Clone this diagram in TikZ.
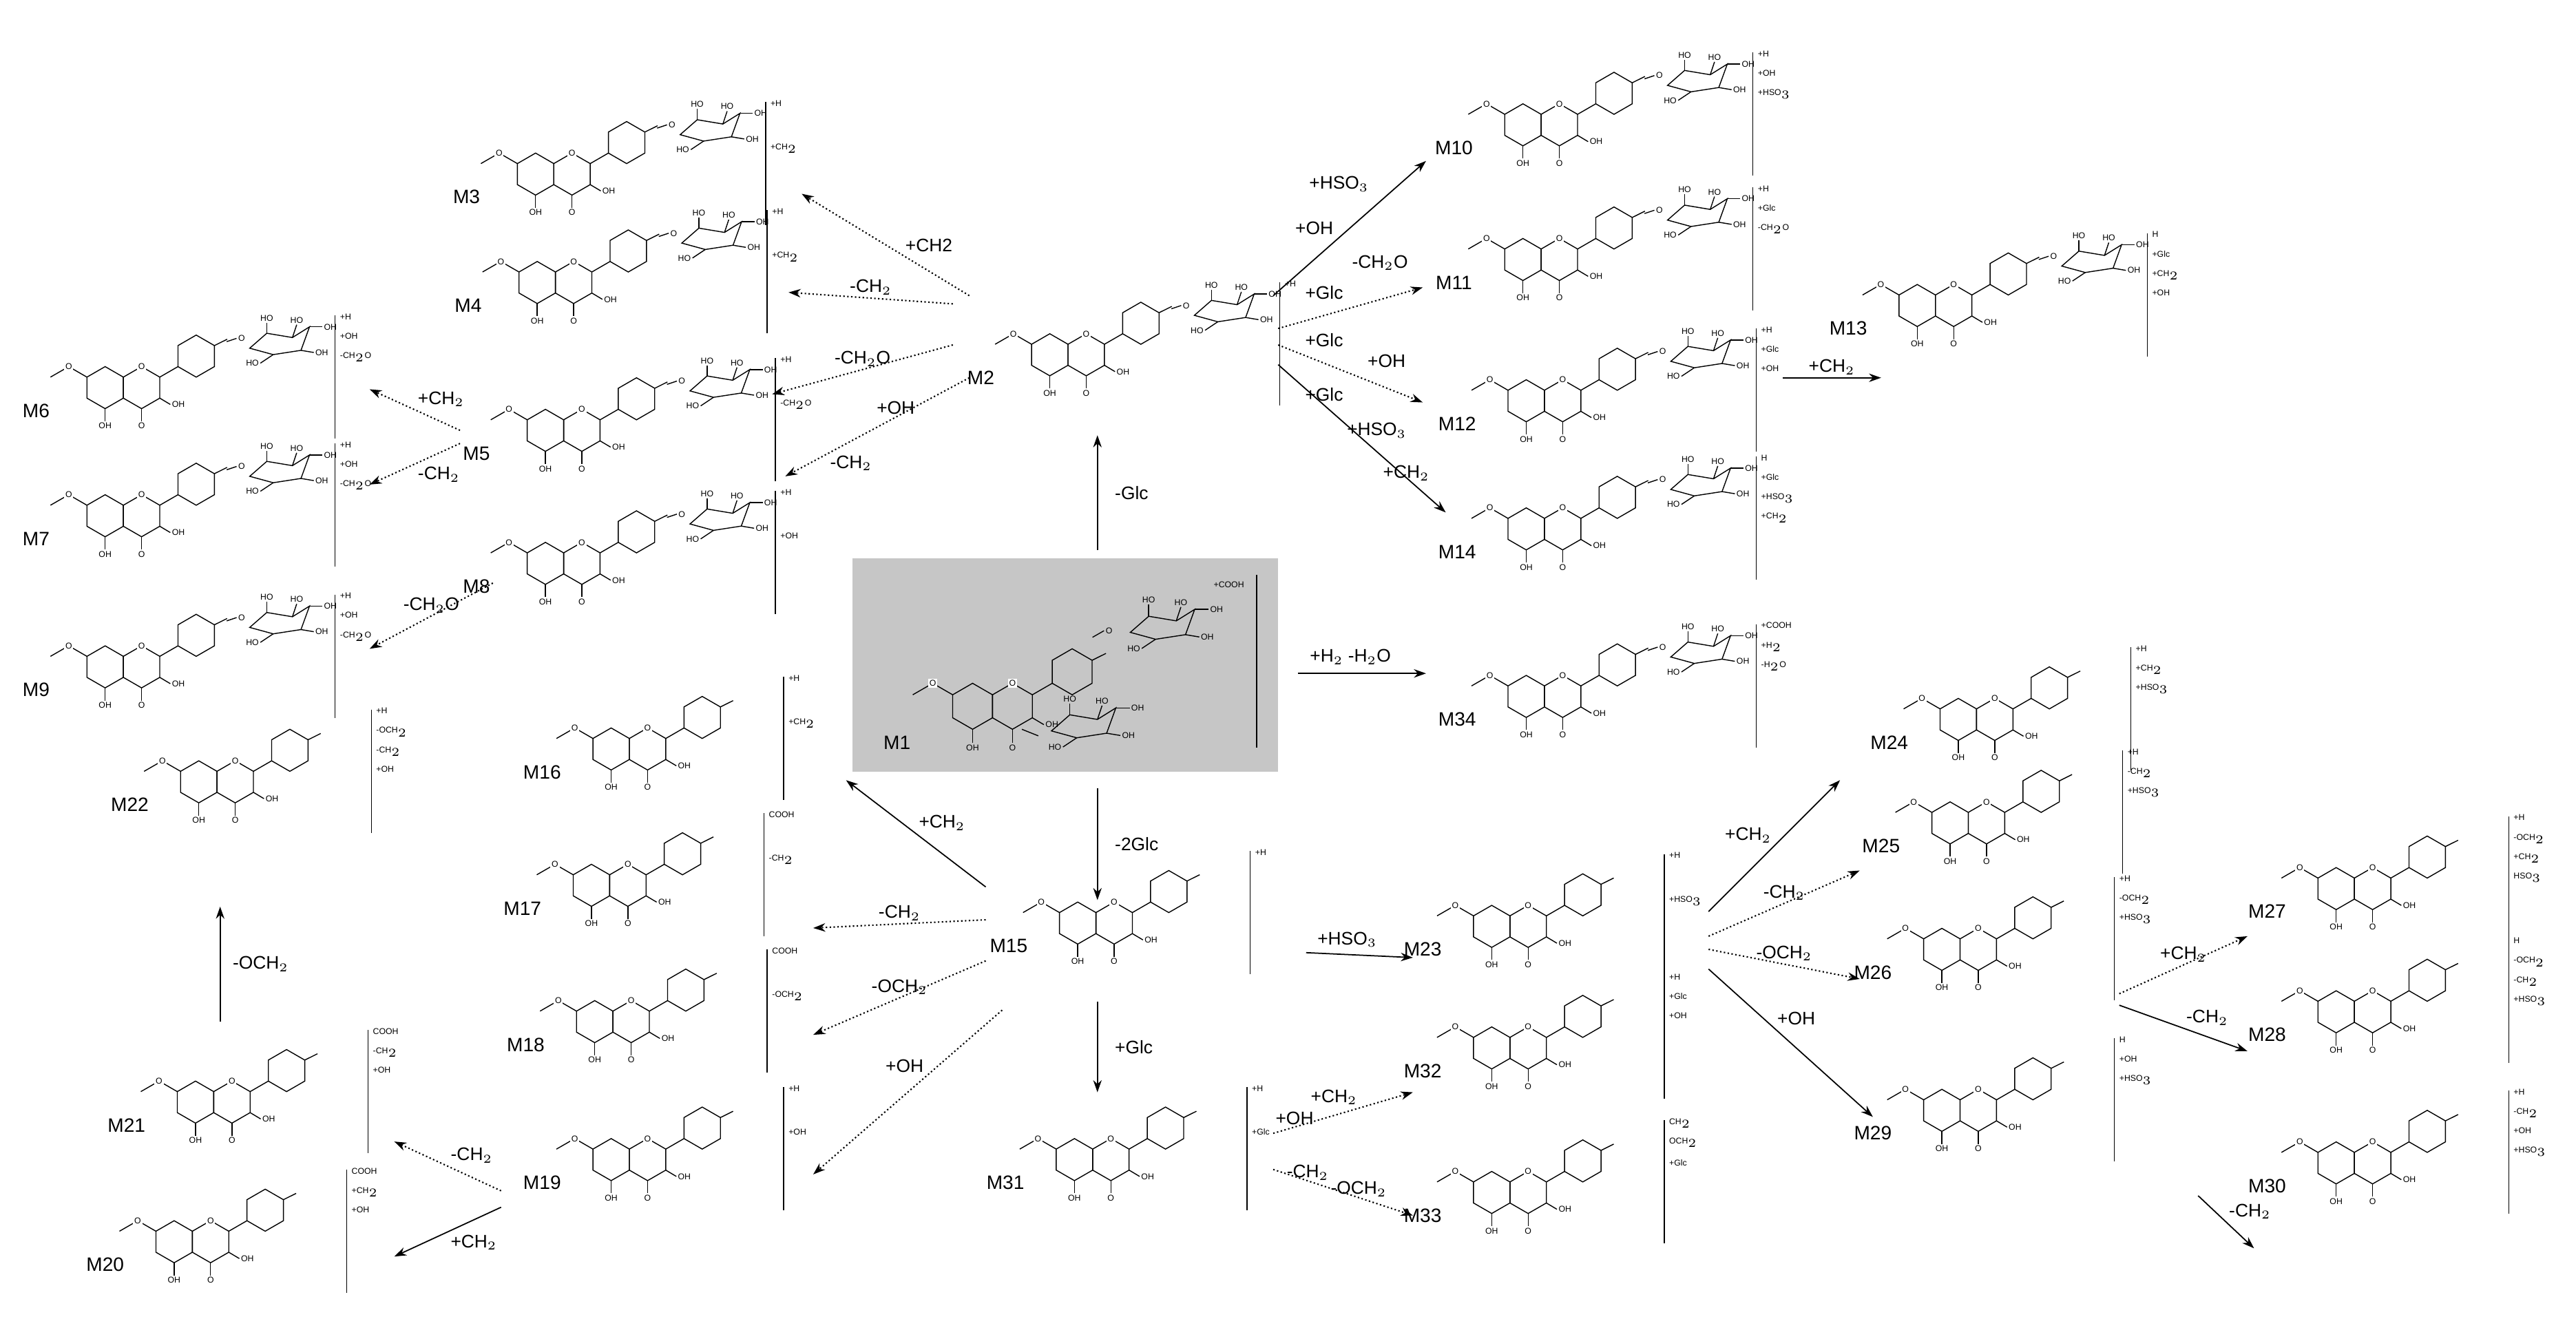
\documentclass[tikz,border=0pt]{standalone}
\usepackage{fontspec}
\setmainfont{Liberation Sans}
\usetikzlibrary{calc,arrows.meta}
\tikzset{
 mol/.style={line width=0.4pt},
 tiny/.style={font=\fontsize{3.5}{4}\selectfont,inner sep=0.5pt},
 mlab/.style={font=\fontsize{8}{9}\selectfont,inner sep=1pt},
 alab/.style={font=\fontsize{7.5}{9}\selectfont,inner sep=1pt},
 sa/.style={-{Stealth[length=5pt,width=3.5pt]},line width=0.5pt},
 da/.style={-{Stealth[length=5pt,width=3.5pt]},line width=0.6pt,densely dotted},
 flav/.pic={
  \draw[mol] (8.66,-5)--(0,-10)--(-8.66,-5)--(-8.66,5)--(0,10)--(8.66,5)--cycle;
  \draw[mol,shift={(17.32,0)}] (8.66,-5)--(0,-10)--(-8.66,-5)--(-8.66,5)--(0,10)--(8.66,5)--cycle;
  \node[tiny,fill=white] at (17.32,-10) {O};
  \draw[mol] (25.98,-5)--(34.64,-10);
  \draw[mol,shift={(43.3,-15)}] (8.66,-5)--(0,-10)--(-8.66,-5)--(-8.66,5)--(0,10)--(8.66,5)--cycle;
  \draw[mol] (51.96,-20)--(58,-23);
  \draw[mol] (-8.66,-5)--(-17.32,-10)--(-26,-5);
  \node[tiny,fill=white] at (-17.32,-10) {O};
  \draw[mol] (0,10)--(0,16) node[tiny,below]{OH};
  \draw[mol] (17.32,10)--(17.32,16) node[tiny,below]{O};
  \draw[mol] (25.98,5)--(31,8) node[tiny,right]{OH};
 },
 sug/.pic={
  \draw[mol] (0,0)--(8,-7)--(20,-5)--(28,-10)--(24,1)--(11,3)--cycle;
  \draw[mol] (8,-7)--(8,-12) node[tiny,above]{HO};
  \draw[mol] (20,-5)--(22,-11) node[tiny,above]{HO};
  \draw[mol] (28,-10)--(34,-10) node[tiny,right]{OH};
  \draw[mol] (24,1)--(30,2) node[tiny,right]{OH};
  \draw[mol] (11,3)--(5,7) node[tiny,left]{HO};
 }
}
% x y name sugar brackettext
\newcommand\mol[5]{%
 \node[mlab] (#3) at (#1,#2) {#3};
 \pic[scale=1.28] at ($(#1,#2)+(42,-14)$) {flav};
 \ifnum#4=1
  \draw[mol] ($(#1,#2)+(116,-42)$)--++(6,-2) node[tiny,right]{O};
  \pic[scale=1.3] at ($(#1,#2)+(130,-38)$) {sug};
  \draw[mol] ($(#1,#2)+(182,-58)$)--++(0,75);
  \node[tiny,anchor=north west,align=left] at ($(#1,#2)+(184,-60)$) {#5};
 \else
  \draw[mol] ($(#1,#2)+(147,-58)$)--++(0,75);
  \node[tiny,anchor=north west,align=left] at ($(#1,#2)+(149,-60)$) {#5};
 \fi}
\begin{document}
\begin{tikzpicture}[x=0.02386cm,y=-0.02386cm]
\useasboundingbox (0,0) rectangle (1568,815);
% M1
\fill[gray!45] (519,340) rectangle (778,470);
\node[mlab] (M1) at (546,452) {M1};
\pic[scale=1.4] at (592,430) {flav};
\draw[mol] (665,388)--(672,384) node[tiny,right]{O};
\pic[scale=1.4] at (688,385) {sug};
\draw[mol] (622,444)--(632,448);
\pic[scale=1.4] at (640,445) {sug};
\draw[mol] (765,350)--(765,455);
\node[tiny] at (748,356) {+COOH};
% molecules
\mol{597}{230}{M2}{1}{+H\\[6pt]\\[6pt]}
\mol{284}{120}{M3}{1}{+H\\[14pt]+CH$_2$}
\mol{285}{186}{M4}{1}{+H\\[14pt]+CH$_2$}
\mol{290}{276}{M5}{1}{+H\\[14pt]-CH$_2$O}
\mol{22}{250}{M6}{1}{+H\\[4pt]+OH\\[4pt]-CH$_2$O}
\mol{22}{328}{M7}{1}{+H\\[4pt]+OH\\[4pt]-CH$_2$O}
\mol{290}{357}{M8}{1}{+H\\[14pt]+OH}
\mol{22}{420}{M9}{1}{+H\\[4pt]+OH\\[4pt]-CH$_2$O}
\mol{885}{90}{M10}{1}{+H\\[4pt]+OH\\[4pt]+HSO$_3$}
\mol{885}{172}{M11}{1}{+H\\[4pt]+Glc\\[4pt]-CH$_2$O}
\mol{887}{258}{M12}{1}{+H\\[4pt]+Glc\\[4pt]+OH}
\mol{1125}{200}{M13}{1}{H\\[4pt]+Glc\\[4pt]+CH$_2$\\[4pt]+OH}
\mol{887}{336}{M14}{1}{H\\[4pt]+Glc\\[4pt]+HSO$_3$\\[4pt]+CH$_2$}
\mol{887}{438}{M34}{1}{+COOH\\[4pt]+H$_2$\\[4pt]-H$_2$O}
\mol{330}{470}{M16}{0}{+H\\[14pt]+CH$_2$}
\mol{318}{553}{M17}{0}{COOH\\[14pt]-CH$_2$}
\mol{320}{636}{M18}{0}{COOH\\[14pt]-OCH$_2$}
\mol{330}{720}{M19}{0}{+H\\[14pt]+OH}
\mol{79}{490}{M22}{0}{+H\\[4pt]-OCH$_2$\\[4pt]-CH$_2$\\[4pt]+OH}
\mol{77}{685}{M21}{0}{COOH\\[4pt]-CH$_2$\\[4pt]+OH}
\mol{64}{770}{M20}{0}{COOH\\[4pt]+CH$_2$\\[4pt]+OH}
\mol{614}{576}{M15}{0}{+H\\[14pt]}
\mol{612}{720}{M31}{0}{+H\\[14pt]+Glc}
\mol{866}{578}{M23}{0}{+H\\[14pt]+HSO$_3$}
\mol{866}{652}{M32}{0}{+H\\[4pt]+Glc\\[4pt]+OH}
\mol{866}{740}{M33}{0}{CH$_2$\\[4pt]OCH$_2$\\[4pt]+Glc}
\mol{1150}{452}{M24}{0}{+H\\[4pt]+CH$_2$\\[4pt]+HSO$_3$}
\mol{1145}{515}{M25}{0}{+H\\[4pt]-CH$_2$\\[4pt]+HSO$_3$}
\mol{1140}{592}{M26}{0}{+H\\[4pt]-OCH$_2$\\[4pt]+HSO$_3$}
\mol{1140}{690}{M29}{0}{H\\[4pt]+OH\\[4pt]+HSO$_3$}
\mol{1380}{555}{M27}{0}{+H\\[4pt]-OCH$_2$\\[4pt]+CH$_2$\\[4pt]HSO$_3$}
\mol{1380}{630}{M28}{0}{H\\[4pt]-OCH$_2$\\[4pt]-CH$_2$\\[4pt]+HSO$_3$}
\mol{1380}{722}{M30}{0}{+H\\[4pt]-CH$_2$\\[4pt]+OH\\[4pt]+HSO$_3$}
% arrows
\coordinate (a1) at (668,335); \coordinate (a2) at (668,265);
\draw[sa] (a1)--(a2) node[alab,midway,right=6pt]{-Glc};
\coordinate (b1) at (668,480); \coordinate (b2) at (668,548);
\draw[sa] (b1)--(b2) node[alab,midway,right=6pt]{-2Glc};
\coordinate (c1) at (668,610); \coordinate (c2) at (668,665);
\draw[sa] (c1)--(c2) node[alab,midway,right=6pt]{+Glc};
\draw[da] (590,180)--(488,118) node[alab,pos=0.4,above right]{+CH2};
\draw[da] (580,185)--(480,178) node[alab,midway,above]{-CH$_2$};
\draw[da] (580,210)--(470,240) node[alab,midway,above]{-CH$_2$O};
\draw[da] (590,230)--(478,290) node[alab,pos=0.4,above]{+OH};
\node[alab] at (518,282) {-CH$_2$};
\draw[da] (280,262)--(225,237) node[alab,midway,above right]{+CH$_2$};
\draw[da] (280,270)--(225,295) node[alab,midway,below right]{-CH$_2$};
\draw[da] (300,355)--(225,395) node[alab,midway,above]{-CH$_2$O};
\draw[sa] (775,180)--(868,98);
\node[alab] at (815,112) {+HSO$_3$}; \node[alab] at (800,139) {+OH};
\draw[da] (778,200)--(866,175);
\node[alab] at (840,160) {-CH$_2$O}; \node[alab] at (806,178) {+Glc};
\draw[da] (778,210)--(866,245);
\node[alab] at (806,207) {+Glc}; \node[alab] at (844,220) {+OH};
\draw[sa] (778,222)--(880,312);
\node[alab] at (806,240) {+Glc}; \node[alab] at (838,262) {+HSO$_3$}; \node[alab] at (856,288) {+CH$_2$};
\draw[sa] (1085,230)--(1145,230) node[alab,midway,above]{+CH$_2$};
\draw[sa] (790,410)--(868,410); \node[alab] at (822,400) {+H$_2$ -H$_2$O};
\draw[sa] (600,540)--(515,475) node[alab,midway,above right]{+CH$_2$};
\draw[da] (600,560)--(495,565) node[alab,midway,above]{-CH$_2$};
\draw[da] (600,585)--(495,630) node[alab,midway,above]{-OCH$_2$};
\draw[da] (610,615)--(495,715) node[alab,pos=0.4,above left]{+OH};
\draw[da] (305,725)--(240,695) node[alab,midway,above right]{-CH$_2$};
\draw[sa] (305,735)--(240,765) node[alab,midway,below right]{+CH$_2$};
\draw[sa] (134,622)--(134,552) node[alab,midway,right=4pt]{-OCH$_2$};
\draw[sa] (795,580)--(860,583); \node[alab] at (820,572) {+HSO$_3$};
\draw[da] (775,690)--(860,665); \node[alab] at (812,668) {+CH$_2$}; \node[alab] at (788,681) {+OH};
\draw[da] (775,712)--(860,740); \node[alab] at (796,714) {-CH$_2$}; \node[alab] at (827,724) {-OCH$_2$};
\draw[sa] (1040,555)--(1120,475) node[alab,midway,above left]{+CH$_2$};
\draw[da] (1040,570)--(1132,530) node[alab,midway,above]{-CH$_2$};
\draw[da] (1040,578)--(1132,596) node[alab,midway,above]{-OCH$_2$};
\draw[sa] (1040,590)--(1140,680) node[alab,pos=0.4,above right]{+OH};
\draw[da] (1290,605)--(1368,570) node[alab,midway,above]{+CH$_2$};
\draw[sa] (1290,612)--(1368,640) node[alab,midway,above right]{-CH$_2$};
\draw[sa] (1338,728)--(1372,760) node[alab,midway,above right]{-CH$_2$};
\end{tikzpicture}
\end{document}
